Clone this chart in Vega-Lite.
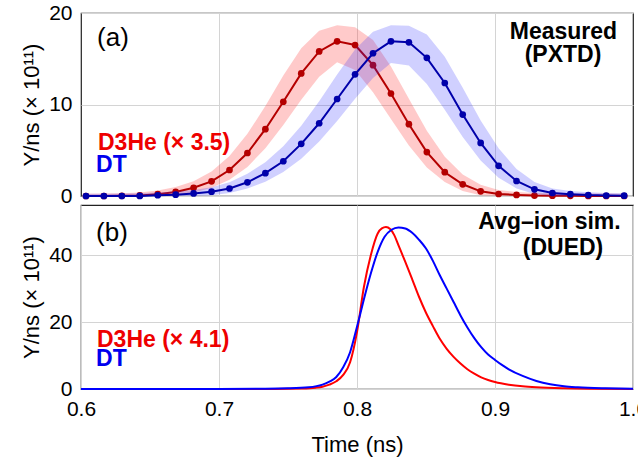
{
  "$schema": "https://vega.github.io/schema/vega-lite/v6.json",
  "background": "white",
  "padding": {"left": 20, "top": 1, "right": 0, "bottom": 5},
  "spacing": 9,
  "bounds": "flush",
  "config": {
    "view": {"stroke": "#222", "strokeWidth": 1.2},
    "font": "Liberation Sans",
    "axis": {
      "labelFont": "Liberation Sans", "labelFontSize": 21, "labelColor": "#000",
      "titleFont": "Liberation Sans", "titleFontSize": 22, "titleFontWeight": "normal", "titleColor": "#000",
      "gridColor": "#d4d4d4", "gridWidth": 1, "domain": false, "ticks": false, "labelPadding": 9,
      "labelOverlap": false
    }
  },
  "datasets": {
    "pxtd": [
      {"s":"D3He","t":0.6036,"v":0,"lo":0,"hi":0.25},
      {"s":"D3He","t":0.6166,"v":0,"lo":0,"hi":0.26},
      {"s":"D3He","t":0.6296,"v":0.02,"lo":0,"hi":0.29},
      {"s":"D3He","t":0.6426,"v":0.06,"lo":0,"hi":0.39},
      {"s":"D3He","t":0.6556,"v":0.2,"lo":0,"hi":0.6},
      {"s":"D3He","t":0.6686,"v":0.44,"lo":0.04,"hi":0.98},
      {"s":"D3He","t":0.6816,"v":0.9,"lo":0.36,"hi":1.61},
      {"s":"D3He","t":0.6946,"v":1.6,"lo":0.89,"hi":2.67},
      {"s":"D3He","t":0.7076,"v":2.84,"lo":1.77,"hi":4.36},
      {"s":"D3He","t":0.7206,"v":4.7,"lo":3.18,"hi":6.79},
      {"s":"D3He","t":0.7336,"v":7.3,"lo":5.21,"hi":9.84},
      {"s":"D3He","t":0.7466,"v":10.3,"lo":7.76,"hi":13.17},
      {"s":"D3He","t":0.7596,"v":13.4,"lo":10.53,"hi":16.16},
      {"s":"D3He","t":0.7726,"v":15.8,"lo":13.04,"hi":18.07},
      {"s":"D3He","t":0.7856,"v":16.9,"lo":14.63,"hi":18.67},
      {"s":"D3He","t":0.7986,"v":16.5,"lo":13.76,"hi":18.45},
      {"s":"D3He","t":0.8116,"v":14.3,"lo":11.35,"hi":17.04},
      {"s":"D3He","t":0.8246,"v":11.2,"lo":8.42,"hi":14.15},
      {"s":"D3He","t":0.8376,"v":7.85,"lo":5.51,"hi":10.63},
      {"s":"D3He","t":0.8506,"v":4.8,"lo":3.12,"hi":7.14},
      {"s":"D3He","t":0.8636,"v":2.6,"lo":1.52,"hi":4.28},
      {"s":"D3He","t":0.8766,"v":1.28,"lo":0.56,"hi":2.36},
      {"s":"D3He","t":0.8896,"v":0.51,"lo":0.08,"hi":1.23},
      {"s":"D3He","t":0.9026,"v":0.22,"lo":0,"hi":0.65},
      {"s":"D3He","t":0.9156,"v":0.12,"lo":0,"hi":0.44},
      {"s":"D3He","t":0.9286,"v":0.05,"lo":0,"hi":0.34},
      {"s":"D3He","t":0.9416,"v":0.03,"lo":0,"hi":0.29},
      {"s":"D3He","t":0.9546,"v":0.02,"lo":0,"hi":0.28},
      {"s":"D3He","t":0.9676,"v":0.01,"lo":0,"hi":0.27},
      {"s":"D3He","t":0.9806,"v":0,"lo":0,"hi":0.26},
      {"s":"D3He","t":0.9936,"v":0,"lo":0,"hi":0.25},
      {"s":"DT","t":0.6036,"v":0,"lo":0,"hi":0.25},
      {"s":"DT","t":0.6166,"v":0,"lo":0,"hi":0.25},
      {"s":"DT","t":0.6296,"v":0,"lo":0,"hi":0.26},
      {"s":"DT","t":0.6426,"v":0.01,"lo":0,"hi":0.3},
      {"s":"DT","t":0.6556,"v":0.08,"lo":0,"hi":0.38},
      {"s":"DT","t":0.6686,"v":0.15,"lo":0,"hi":0.48},
      {"s":"DT","t":0.6816,"v":0.28,"lo":0,"hi":0.66},
      {"s":"DT","t":0.6946,"v":0.47,"lo":0.09,"hi":0.95},
      {"s":"DT","t":0.7076,"v":0.82,"lo":0.34,"hi":1.51},
      {"s":"DT","t":0.7206,"v":1.5,"lo":0.81,"hi":2.43},
      {"s":"DT","t":0.7336,"v":2.5,"lo":1.57,"hi":3.68},
      {"s":"DT","t":0.7466,"v":3.8,"lo":2.62,"hi":5.43},
      {"s":"DT","t":0.7596,"v":5.7,"lo":4.07,"hi":7.69},
      {"s":"DT","t":0.7726,"v":7.95,"lo":5.96,"hi":10.36},
      {"s":"DT","t":0.7856,"v":10.6,"lo":8.19,"hi":13.28},
      {"s":"DT","t":0.7986,"v":13.3,"lo":10.62,"hi":16.0},
      {"s":"DT","t":0.8116,"v":15.6,"lo":12.9,"hi":17.96},
      {"s":"DT","t":0.8246,"v":16.9,"lo":14.54,"hi":18.67},
      {"s":"DT","t":0.8376,"v":16.8,"lo":14.26,"hi":18.62},
      {"s":"DT","t":0.8506,"v":15.1,"lo":12.24,"hi":17.64},
      {"s":"DT","t":0.8636,"v":12.35,"lo":9.42,"hi":15.21},
      {"s":"DT","t":0.8766,"v":8.9,"lo":6.44,"hi":11.83},
      {"s":"DT","t":0.8896,"v":5.8,"lo":3.89,"hi":8.26},
      {"s":"DT","t":0.9026,"v":3.3,"lo":2.0,"hi":5.21},
      {"s":"DT","t":0.9156,"v":1.64,"lo":0.83,"hi":2.94},
      {"s":"DT","t":0.9286,"v":0.73,"lo":0.23,"hi":1.54},
      {"s":"DT","t":0.9416,"v":0.33,"lo":0,"hi":0.83},
      {"s":"DT","t":0.9546,"v":0.2,"lo":0,"hi":0.54},
      {"s":"DT","t":0.9676,"v":0.1,"lo":0,"hi":0.41},
      {"s":"DT","t":0.9806,"v":0.05,"lo":0,"hi":0.33},
      {"s":"DT","t":0.9936,"v":0.03,"lo":0,"hi":0.29}
    ],
    "dued": [
      {"s":"D3He","t":0.6,"v":0},{"s":"D3He","t":0.74,"v":0.02},{"s":"D3He","t":0.76,"v":0.15},{"s":"D3He","t":0.77,"v":0.4},
      {"s":"D3He","t":0.775,"v":0.7},{"s":"D3He","t":0.78,"v":1.3},{"s":"D3He","t":0.785,"v":2.3},{"s":"D3He","t":0.79,"v":4.2},
      {"s":"D3He","t":0.795,"v":8.0},{"s":"D3He","t":0.8,"v":17.0},{"s":"D3He","t":0.805,"v":30.5},{"s":"D3He","t":0.81,"v":40.0},
      {"s":"D3He","t":0.815,"v":46.5},{"s":"D3He","t":0.818,"v":48.0},{"s":"D3He","t":0.821,"v":48.4},{"s":"D3He","t":0.824,"v":47.8},
      {"s":"D3He","t":0.827,"v":46.0},{"s":"D3He","t":0.83,"v":43.0},{"s":"D3He","t":0.835,"v":38.0},{"s":"D3He","t":0.84,"v":32.8},
      {"s":"D3He","t":0.845,"v":27.5},{"s":"D3He","t":0.85,"v":22.8},{"s":"D3He","t":0.855,"v":18.8},{"s":"D3He","t":0.86,"v":15.0},
      {"s":"D3He","t":0.865,"v":12.0},{"s":"D3He","t":0.87,"v":9.6},{"s":"D3He","t":0.875,"v":7.6},{"s":"D3He","t":0.88,"v":5.9},
      {"s":"D3He","t":0.885,"v":4.6},{"s":"D3He","t":0.89,"v":3.5},{"s":"D3He","t":0.895,"v":2.7},{"s":"D3He","t":0.9,"v":2.1},
      {"s":"D3He","t":0.91,"v":1.3},{"s":"D3He","t":0.92,"v":0.8},{"s":"D3He","t":0.93,"v":0.5},{"s":"D3He","t":0.95,"v":0.2},
      {"s":"D3He","t":0.97,"v":0.08},{"s":"D3He","t":1.0,"v":0.02},
      {"s":"DT","t":0.6,"v":0},{"s":"DT","t":0.7,"v":0.02},{"s":"DT","t":0.73,"v":0.08},{"s":"DT","t":0.75,"v":0.2},
      {"s":"DT","t":0.765,"v":0.5},{"s":"DT","t":0.775,"v":1.3},{"s":"DT","t":0.78,"v":2.2},{"s":"DT","t":0.785,"v":3.6},
      {"s":"DT","t":0.79,"v":6.5},{"s":"DT","t":0.795,"v":11.0},{"s":"DT","t":0.8,"v":18.6},{"s":"DT","t":0.805,"v":26.8},
      {"s":"DT","t":0.81,"v":34.5},{"s":"DT","t":0.815,"v":41.0},{"s":"DT","t":0.82,"v":45.5},{"s":"DT","t":0.825,"v":47.6},
      {"s":"DT","t":0.83,"v":48.3},{"s":"DT","t":0.835,"v":48.0},{"s":"DT","t":0.84,"v":46.7},{"s":"DT","t":0.845,"v":44.6},
      {"s":"DT","t":0.85,"v":42.0},{"s":"DT","t":0.855,"v":38.3},{"s":"DT","t":0.86,"v":34.0},{"s":"DT","t":0.865,"v":30.0},
      {"s":"DT","t":0.87,"v":26.0},{"s":"DT","t":0.875,"v":22.0},{"s":"DT","t":0.88,"v":18.4},{"s":"DT","t":0.885,"v":15.2},
      {"s":"DT","t":0.89,"v":12.5},{"s":"DT","t":0.895,"v":10.3},{"s":"DT","t":0.9,"v":8.7},{"s":"DT","t":0.905,"v":7.2},
      {"s":"DT","t":0.91,"v":5.9},{"s":"DT","t":0.92,"v":3.9},{"s":"DT","t":0.93,"v":2.4},{"s":"DT","t":0.94,"v":1.4},
      {"s":"DT","t":0.95,"v":0.8},{"s":"DT","t":0.96,"v":0.5},{"s":"DT","t":0.98,"v":0.2},{"s":"DT","t":1.0,"v":0.05}
    ],
    "notes": [
      {"p":"a","k":"label","t":0.6116,"v":16.4,"text":"(a)"},
      {"p":"a","k":"title","t":0.9496,"v":17.2,"text":"Measured"},
      {"p":"a","k":"title","t":0.9493,"v":14.6,"text":"(PXTD)"},
      {"p":"a","k":"red","t":0.6123,"v":5.0,"text":"D3He (× 3.5)"},
      {"p":"a","k":"blue","t":0.6109,"v":2.6,"text":"DT"},
      {"p":"b","k":"label","t":0.6109,"v":44.3,"text":"(b)"},
      {"p":"b","k":"title","t":0.9395,"v":47.8,"text":"Avg–ion sim."},
      {"p":"b","k":"title","t":0.9493,"v":40.0,"text":"(DUED)"},
      {"p":"b","k":"red","t":0.6116,"v":12.5,"text":"D3He (× 4.1)"},
      {"p":"b","k":"blue","t":0.6109,"v":6.9,"text":"DT"}
    ]
  },
  "vconcat": [
    {
      "width": 552, "height": 183,
      "encoding": {
        "x": {"field": "t", "type": "quantitative", "title": null,
              "scale": {"domain": [0.6, 1.0], "nice": false, "zero": false},
              "axis": {"values": [0.7, 0.8, 0.9], "labels": false, "title": null}},
        "y": {"field": "v", "type": "quantitative", "title": "Y/ns (× 10¹¹)",
              "scale": {"domain": [0, 20], "nice": false},
              "axis": {"values": [0, 10, 20], "title": "Y/ns (× 10¹¹)", "titlePadding": 5}}
      },
      "layer": [
        {"data": {"name": "pxtd"}, "transform": [{"filter": "datum.s === 'D3He'"}],
         "mark": {"type": "area", "color": "#ff2a2a", "opacity": 0.25},
         "encoding": {"y": {"field": "lo", "type": "quantitative", "title": "Y/ns (× 10¹¹)"}, "y2": {"field": "hi"}}},
        {"data": {"name": "pxtd"}, "transform": [{"filter": "datum.s === 'D3He'"}],
         "mark": {"type": "line", "color": "#b40000", "strokeWidth": 2, "point": {"filled": true, "size": 45, "color": "#b40000", "opacity": 1}},
         "encoding": {}},
        {"data": {"name": "pxtd"}, "transform": [{"filter": "datum.s === 'DT'"}],
         "mark": {"type": "area", "color": "#2a2aff", "opacity": 0.22},
         "encoding": {"y": {"field": "lo", "type": "quantitative", "title": "Y/ns (× 10¹¹)"}, "y2": {"field": "hi"}}},
        {"data": {"name": "pxtd"}, "transform": [{"filter": "datum.s === 'DT'"}],
         "mark": {"type": "line", "color": "#0000aa", "strokeWidth": 2, "point": {"filled": true, "size": 45, "color": "#0000aa", "opacity": 1}},
         "encoding": {}},
        {"data": {"name": "notes"}, "transform": [{"filter": "datum.p === 'a' && datum.k === 'label'"}],
         "mark": {"type": "text", "align": "left", "baseline": "alphabetic", "fontSize": 26, "color": "#000"},
         "encoding": {"text": {"field": "text"}}},
        {"data": {"name": "notes"}, "transform": [{"filter": "datum.p === 'a' && datum.k === 'title'"}],
         "mark": {"type": "text", "align": "center", "baseline": "alphabetic", "fontSize": 23, "fontWeight": "bold", "color": "#000"},
         "encoding": {"text": {"field": "text"}}},
        {"data": {"name": "notes"}, "transform": [{"filter": "datum.p === 'a' && datum.k === 'red'"}],
         "mark": {"type": "text", "align": "left", "baseline": "alphabetic", "fontSize": 23, "fontWeight": "bold", "color": "#ee0000"},
         "encoding": {"text": {"field": "text"}}},
        {"data": {"name": "notes"}, "transform": [{"filter": "datum.p === 'a' && datum.k === 'blue'"}],
         "mark": {"type": "text", "align": "left", "baseline": "alphabetic", "fontSize": 23, "fontWeight": "bold", "color": "#0000ee"},
         "encoding": {"text": {"field": "text"}}}
      ]
    },
    {
      "width": 552, "height": 184,
      "encoding": {
        "x": {"field": "t", "type": "quantitative", "title": "Time (ns)",
              "scale": {"domain": [0.6, 1.0], "nice": false, "zero": false},
              "axis": {"values": [0.6, 0.7, 0.8, 0.9, 1.0], "format": ".1f", "labelFlush": false, "title": "Time (ns)", "titlePadding": 15}},
        "y": {"field": "v", "type": "quantitative", "title": "Y/ns (× 10¹¹)",
              "scale": {"domain": [0, 55], "nice": false},
              "axis": {"values": [0, 20, 40], "title": "Y/ns (× 10¹¹)", "titlePadding": 5}}
      },
      "layer": [
        {"data": {"name": "dued"}, "transform": [{"filter": "datum.s === 'D3He'"}],
         "mark": {"type": "line", "color": "#ff0000", "strokeWidth": 2, "interpolate": "monotone"},
         "encoding": {}},
        {"data": {"name": "dued"}, "transform": [{"filter": "datum.s === 'DT'"}],
         "mark": {"type": "line", "color": "#0000ff", "strokeWidth": 2, "interpolate": "monotone"},
         "encoding": {}},
        {"data": {"name": "notes"}, "transform": [{"filter": "datum.p === 'b' && datum.k === 'label'"}],
         "mark": {"type": "text", "align": "left", "baseline": "alphabetic", "fontSize": 26, "color": "#000"},
         "encoding": {"text": {"field": "text"}}},
        {"data": {"name": "notes"}, "transform": [{"filter": "datum.p === 'b' && datum.k === 'title'"}],
         "mark": {"type": "text", "align": "center", "baseline": "alphabetic", "fontSize": 23, "fontWeight": "bold", "color": "#000"},
         "encoding": {"text": {"field": "text"}}},
        {"data": {"name": "notes"}, "transform": [{"filter": "datum.p === 'b' && datum.k === 'red'"}],
         "mark": {"type": "text", "align": "left", "baseline": "alphabetic", "fontSize": 23, "fontWeight": "bold", "color": "#ee0000"},
         "encoding": {"text": {"field": "text"}}},
        {"data": {"name": "notes"}, "transform": [{"filter": "datum.p === 'b' && datum.k === 'blue'"}],
         "mark": {"type": "text", "align": "left", "baseline": "alphabetic", "fontSize": 23, "fontWeight": "bold", "color": "#0000ee"},
         "encoding": {"text": {"field": "text"}}}
      ]
    }
  ]
}
